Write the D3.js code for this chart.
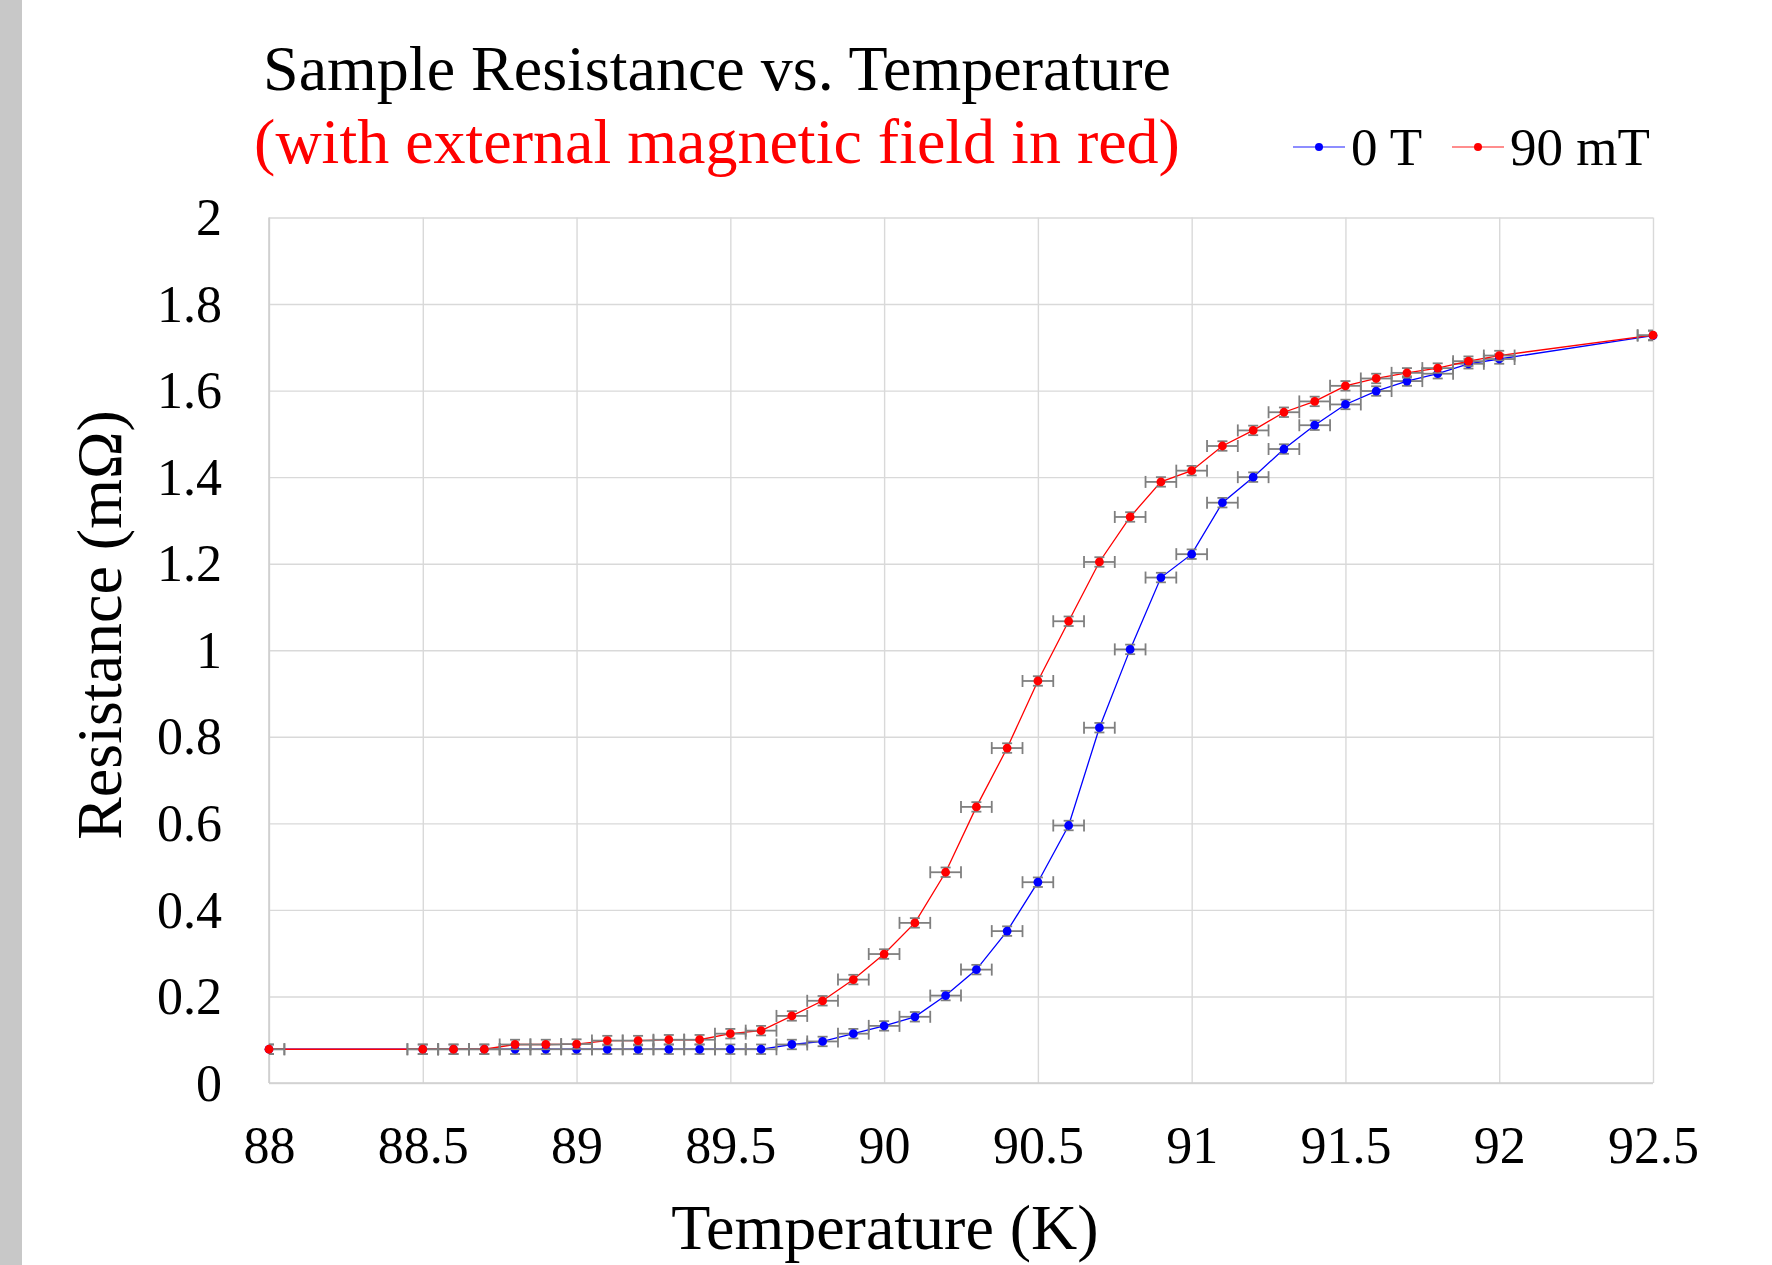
<!DOCTYPE html>
<html>
<head>
<meta charset="utf-8">
<script src="https://cdn.jsdelivr.net/npm/d3@7"></script>
<style>
  html, body { margin: 0; padding: 0; background: #fff; }
  #chart { width: 1772px; height: 1265px; }
</style>
</head>
<body>
<div id="chart"></div>
<script>
// temperature steps (K)
const temps = [88, 88.5, 88.6, 88.7, 88.8, 88.9, 89.0, 89.1, 89.2, 89.3, 89.4, 89.5, 89.6,
  89.7, 89.8, 89.9, 90.0, 90.1, 90.2, 90.3, 90.4, 90.5, 90.6, 90.7, 90.8, 90.9,
  91.0, 91.1, 91.2, 91.3, 91.4, 91.5, 91.6, 91.7, 91.8, 91.9, 92.0, 92.5];

// resistance (mOhm), no field
const r0T = [0.078, 0.078, 0.078, 0.078, 0.078, 0.078, 0.078, 0.078, 0.078, 0.078, 0.078, 0.078, 0.078,
  0.089, 0.096, 0.114, 0.132, 0.153, 0.202, 0.262, 0.351, 0.464, 0.595, 0.821, 1.002, 1.168,
  1.222, 1.341, 1.400, 1.465, 1.520, 1.568, 1.599, 1.622, 1.639, 1.662, 1.673, 1.727];

// resistance (mOhm), 90 mT
const r90mT = [0.078, 0.078, 0.078, 0.078, 0.089, 0.089, 0.090, 0.098, 0.098, 0.100, 0.100, 0.114, 0.121,
  0.155, 0.190, 0.239, 0.298, 0.370, 0.487, 0.638, 0.774, 0.929, 1.067, 1.204, 1.308, 1.389,
  1.415, 1.472, 1.508, 1.550, 1.575, 1.611, 1.628, 1.641, 1.652, 1.668, 1.681, 1.728];

const xErr = 0.05;
const yErr = 0.011;

const xTicks = [88, 88.5, 89, 89.5, 90, 90.5, 91, 91.5, 92, 92.5];
const yTicks = [0, 0.2, 0.4, 0.6, 0.8, 1, 1.2, 1.4, 1.6, 1.8, 2];

const seriesNames = ["0 T", "90 mT"];
const seriesColors = ["#0000ff", "#ff0000"];

function chart({width, height}) {
  const margin = {left: 269, right: width - 1653, top: 217.5, bottom: height - 1083};
  const font = "'Liberation Serif', 'Times New Roman', serif";

  const x = d3.scaleLinear().domain([88, 92.5]).range([margin.left, width - margin.right]);
  const y = d3.scaleLinear().domain([0, 2]).range([height - margin.bottom, margin.top]);

  const svg = d3.create("svg")
    .attr("width", width)
    .attr("height", height)
    .attr("viewBox", [0, 0, width, height])
    .style("font-family", font);

  svg.append("rect")
    .attr("width", width).attr("height", height).attr("fill", "#fff");
  // grey strip on the left edge
  svg.append("rect")
    .attr("x", 0).attr("y", 0).attr("width", 22).attr("height", height)
    .attr("fill", "#c8c8c8");

  svg.append("clipPath")
    .attr("id", "plot-clip")
    .append("rect")
      .attr("x", margin.left).attr("y", margin.top - 10)
      .attr("width", width - margin.left - margin.right)
      .attr("height", height - margin.top - margin.bottom + 20);

  // y axis + horizontal grid
  const yAxis = svg.append("g")
    .attr("transform", `translate(${margin.left},0)`)
    .call(d3.axisLeft(y).tickValues(yTicks).tickFormat(d => String(d))
      .tickSize(-(width - margin.left - margin.right)).tickPadding(47));
  yAxis.select(".domain").remove();
  yAxis.selectAll("line").attr("stroke", "#d9d9d9").attr("stroke-width", 1.4);
  yAxis.selectAll("text").attr("font-size", 52).attr("fill", "#000")
    .attr("font-family", font).attr("dy", "0.33em");

  // x axis + vertical grid
  const xAxis = svg.append("g")
    .attr("transform", `translate(0,${height - margin.bottom})`)
    .call(d3.axisBottom(x).tickValues(xTicks).tickFormat(d => String(d))
      .tickSize(-(height - margin.top - margin.bottom)).tickPadding(43));
  xAxis.select(".domain").remove();
  xAxis.selectAll("line").attr("stroke", "#d9d9d9").attr("stroke-width", 1.4);
  xAxis.selectAll("text").attr("font-size", 52).attr("fill", "#000")
    .attr("font-family", font);

  // axis base lines, slightly darker
  svg.append("line")
    .attr("x1", x(88)).attr("x2", x(92.5)).attr("y1", y(0)).attr("y2", y(0))
    .attr("stroke", "#cfcfcf").attr("stroke-width", 1.6);
  svg.append("line")
    .attr("x1", x(88)).attr("x2", x(88)).attr("y1", y(0)).attr("y2", y(2))
    .attr("stroke", "#cfcfcf").attr("stroke-width", 1.6);

  const series = [r0T, r90mT].map((vals, i) => ({
    name: seriesNames[i],
    color: seriesColors[i],
    points: temps.map((t, j) => ({t, r: vals[j]}))
  }));

  const line = d3.line().x(d => x(d.t)).y(d => y(d.r));

  const g = svg.append("g")
    .selectAll("g")
    .data(series)
    .join("g");

  g.append("path")
    .attr("d", d => line(d.points))
    .attr("fill", "none")
    .attr("stroke", d => d.color)
    .attr("stroke-width", 1.3);

  // error bars (clipped to the plot area like the original)
  const eb = g.append("g")
    .attr("clip-path", "url(#plot-clip)")
    .attr("stroke", "#7f7f7f")
    .attr("stroke-width", 1.8)
    .selectAll("g")
    .data(d => d.points)
    .join("g");
  eb.append("line")
    .attr("x1", d => x(d.t - xErr)).attr("x2", d => x(d.t + xErr))
    .attr("y1", d => y(d.r)).attr("y2", d => y(d.r));
  eb.append("line")
    .attr("x1", d => x(d.t - xErr)).attr("x2", d => x(d.t - xErr))
    .attr("y1", d => y(d.r) - 6).attr("y2", d => y(d.r) + 6);
  eb.append("line")
    .attr("x1", d => x(d.t + xErr)).attr("x2", d => x(d.t + xErr))
    .attr("y1", d => y(d.r) - 6).attr("y2", d => y(d.r) + 6);
  eb.append("line")
    .attr("x1", d => x(d.t) - 5).attr("x2", d => x(d.t) + 5)
    .attr("y1", d => y(d.r + yErr)).attr("y2", d => y(d.r + yErr));
  eb.append("line")
    .attr("x1", d => x(d.t) - 5).attr("x2", d => x(d.t) + 5)
    .attr("y1", d => y(d.r - yErr)).attr("y2", d => y(d.r - yErr));

  g.append("g")
    .selectAll("circle")
    .data(d => d.points.map(p => ({...p, color: d.color})))
    .join("circle")
      .attr("cx", d => x(d.t))
      .attr("cy", d => y(d.r))
      .attr("r", 4.4)
      .attr("fill", d => d.color);

  // titles
  svg.append("text")
    .attr("x", 717).attr("y", 90)
    .attr("text-anchor", "middle")
    .attr("font-size", 64)
    .attr("fill", "#000")
    .text("Sample Resistance vs. Temperature");
  svg.append("text")
    .attr("x", 717).attr("y", 163)
    .attr("text-anchor", "middle")
    .attr("font-size", 64)
    .attr("fill", "#ff0000")
    .text("(with external magnetic field in red)");

  svg.append("text")
    .attr("x", 885).attr("y", 1249)
    .attr("text-anchor", "middle")
    .attr("font-size", 64)
    .attr("fill", "#000")
    .text("Temperature (K)");
  svg.append("text")
    .attr("transform", "translate(121,625) rotate(-90)")
    .attr("text-anchor", "middle")
    .attr("font-size", 64)
    .attr("fill", "#000")
    .text("Resistance (mΩ)");

  // legend
  const legendX = [1293, 1452];
  const legend = svg.append("g")
    .selectAll("g")
    .data(series)
    .join("g")
      .attr("transform", (d, i) => `translate(${legendX[i]},147)`);
  legend.append("line")
    .attr("x1", 0).attr("x2", 52)
    .attr("stroke", d => d.color).attr("stroke-opacity", 0.6).attr("stroke-width", 1.3);
  legend.append("circle")
    .attr("cx", 26).attr("r", 4)
    .attr("fill", d => d.color);
  legend.append("text")
    .attr("x", 58).attr("y", 17.5)
    .attr("font-size", 53)
    .attr("fill", "#000")
    .text(d => d.name);

  return svg.node();
}

const mysvg = chart({width: 1772, height: 1265});
document.querySelector("#chart").appendChild(mysvg);
</script>
</body>
</html>
